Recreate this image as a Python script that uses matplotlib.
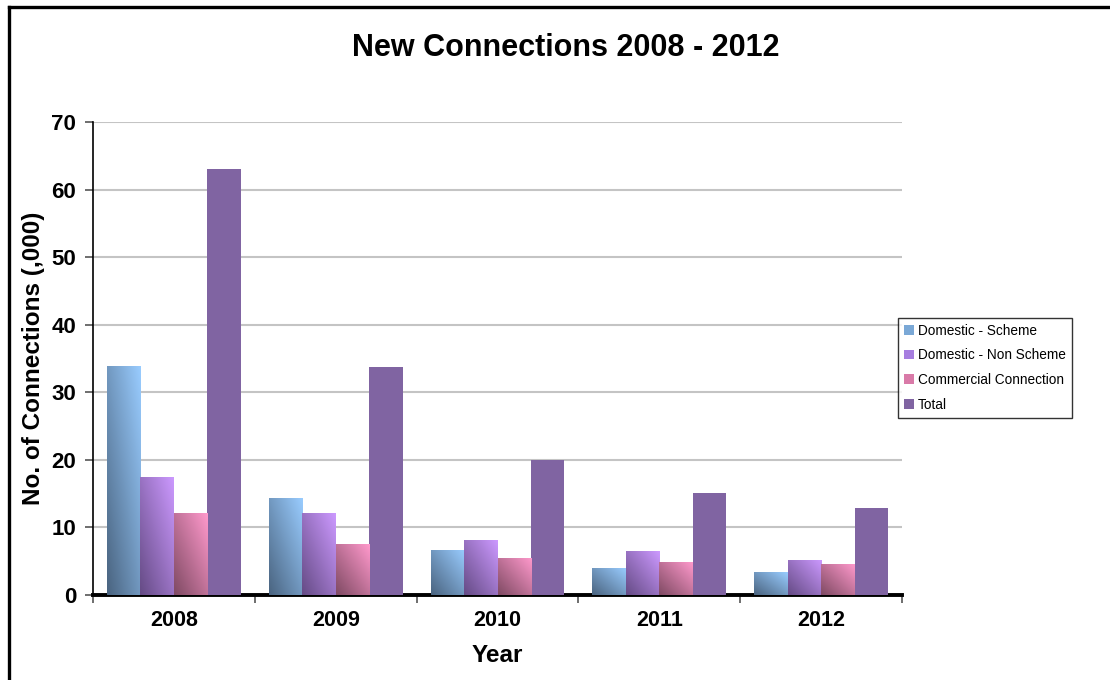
import numpy as np
import matplotlib
matplotlib.use("Agg")
import matplotlib.pyplot as plt
from matplotlib.colors import LinearSegmentedColormap
from matplotlib.lines import Line2D

plt.rcParams['font.family'] = ['Liberation Sans', 'DejaVu Sans']

# data (thousands of connections)
years = ['2008', '2009', '2010', '2011', '2012']
series_names = ['Domestic - Scheme', 'Domestic - Non Scheme', 'Commercial Connection', 'Total']
domestic_scheme = [33.9, 14.3, 6.7, 4.0, 3.4]
domestic_non_scheme = [17.5, 12.1, 8.1, 6.5, 5.2]
commercial = [12.1, 7.5, 5.5, 4.9, 4.6]
total = [63.0, 33.7, 20.0, 15.1, 12.9]

series = [domestic_scheme, domestic_non_scheme, commercial, total]
# (dark, light) gradient ends; None = flat fill
gradients = [('#4a6480', '#99ccff'), ('#654b85', '#cc99ff'), ('#7f4a63', '#ff99cc'), None]
flat_colors = ['#7aa8d6', '#a77ee0', '#d97aa8', '#8064a2']

fig = plt.figure(figsize=(11.1, 6.8), dpi=100)
ax = fig.add_axes([0.0838, 0.125, 0.7288, 0.6956])

x = np.arange(len(years))
w = 0.207

# diagonal gradient (dark bottom-left -> light top-right), scaled to each bar
n = 64
u, v = np.meshgrid(np.linspace(0, 1, n), np.linspace(0, 1, n))
grad = (u + v) / 2.0

for i, vals in enumerate(series):
    bars = ax.bar(x + (i - 1.5) * w, vals, width=w, color=flat_colors[i],
                  label=series_names[i], zorder=3, linewidth=0)
    if gradients[i] is None:
        continue
    cmap = LinearSegmentedColormap.from_list('g%d' % i, list(gradients[i]))
    for b in bars:
        x0, y0 = b.get_x(), b.get_y()
        im = ax.imshow(grad, cmap=cmap, origin='lower', aspect='auto',
                       extent=[x0, x0 + b.get_width(), y0, y0 + b.get_height()],
                       zorder=4, interpolation='bilinear')
        im.set_clip_path(b)

ax.set_xlim(-0.5, 4.5)
ax.set_ylim(0, 70)
ax.set_yticks(np.arange(0, 71, 10))
ax.yaxis.grid(True, color='#c4c4c4', linewidth=1.5, zorder=0)
ax.set_axisbelow(True)

ax.set_xticks(x)
ax.set_xticklabels(years, fontsize=15.5, fontweight='bold')
ax.set_xticks(np.arange(-0.5, 5, 1), minor=True)
ax.tick_params(axis='x', which='major', length=0, pad=11)
ax.tick_params(axis='x', which='minor', length=6, width=1.2, direction='out', color='#555555')
ax.tick_params(axis='y', length=6, width=1.2, color='#555555', labelsize=16, pad=6)
for lab in ax.get_yticklabels():
    lab.set_fontweight('bold')

for s in ['top', 'right']:
    ax.spines[s].set_visible(False)
ax.spines['left'].set_linewidth(1.2)
ax.spines['bottom'].set_linewidth(2.8)

ax.set_xlabel('Year', fontsize=17.5, fontweight='bold', labelpad=9)
ax.set_ylabel('No. of Connections (,000)', fontsize=17.5, fontweight='bold', labelpad=5)
fig.text(0.51, 0.929, 'New Connections 2008 - 2012', ha='center', va='center',
         fontsize=22, fontweight='bold')

leg = ax.legend(loc='upper left', bbox_to_anchor=(0.809, 0.533),
                bbox_transform=fig.transFigure, fontsize=9.8, frameon=True,
                fancybox=False, edgecolor='black', handlelength=0.7,
                handleheight=0.7, handletextpad=0.3, labelspacing=0.78,
                borderpad=0.45, borderaxespad=0)
leg.get_frame().set_linewidth(1.0)

# outer frame (left and top edges)
fig.add_artist(Line2D([0.0085, 0.0085], [0.0, 0.990], transform=fig.transFigure,
                      color='black', linewidth=2.4))
fig.add_artist(Line2D([0.0085, 1.0], [0.990, 0.990], transform=fig.transFigure,
                      color='black', linewidth=2.4))

fig.savefig('out.png', dpi=100)
